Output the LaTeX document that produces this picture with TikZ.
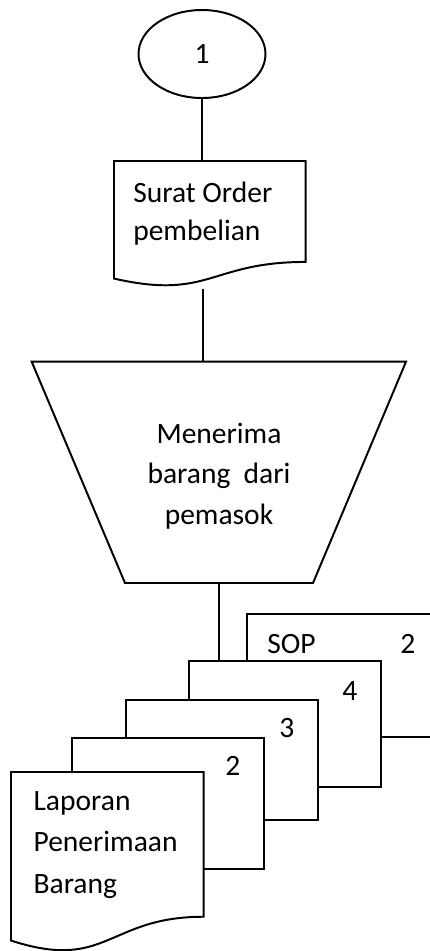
\documentclass[tikz,border=0pt]{standalone}
\usepackage{fontspec}
\setmainfont{Carlito}
\usepackage{tikz}
\usetikzlibrary{shapes.geometric,calc,positioning}

% dokumen: garis bawah bergelombang
\newcommand{\dokumen}[1]{%
  \draw[garis,fill=white] (#1.north west) -- (#1.north east)
    -- ($(#1.north east)!0.802!(#1.south east)$)
    .. controls ($(#1.north)!0.802!(#1.south)$) and ($(#1.north)!1.1075!(#1.south)$)
    .. ($(#1.north west)!0.934!(#1.south west)$) -- cycle;}

\begin{document}
\begin{tikzpicture}[x=0.25cm,y=-0.25cm,
  garis/.style={line width=1.4pt},
  teks/.style={inner sep=0pt},
  huruf/.style={font=\fontsize{21pt}{#1}\selectfont},
  huruf/.default=27pt,
  lembar/.style={garis,draw,fill=white,anchor=north west,inner sep=0pt,minimum width=4.8cm},
  rangka/.style={anchor=north west,inner sep=0pt,minimum width=4.8cm}]

\useasboundingbox (0,0) rectangle (43,95.1);
\clip (0,0) rectangle (43,95.1);

% penghubung
\node[ellipse,draw,garis,huruf,inner sep=0pt,minimum width=3.175cm,minimum height=2.2cm] (satu) at (20.2,5.4) {1};

% surat order pembelian
\node[rangka,minimum width=4.775cm,minimum height=3.1325cm] (surat) at (11.4,16.1) {};
\dokumen{surat}
\node[teks,huruf=27pt,align=left,anchor=north west] (suratteks) at (13.3,18.2) {Surat Order\\pembelian};

% menerima barang
\coordinate (tkiri) at (3.17,36.17);
\coordinate (tkanan) at (40.6,36.17);
\coordinate (bkanan) at (31.3,58.3);
\coordinate (bkiri) at (12.5,58.3);
\draw[garis] (tkiri) -- (tkanan) -- (bkanan) -- (bkiri) -- cycle;
\node[teks,huruf=29pt,align=center] (terima) at (21.9,47.6) {Menerima\\barang~ dari\\pemasok};

% tumpukan lembar
\node[lembar,minimum height=3.075cm] (sop) at (24.6,61.3) {};
\node[teks,huruf,anchor=base west] (sopteks) at ([xshift=0.525cm,yshift=-1cm]sop.north west) {SOP};
\node[teks,huruf,anchor=base] (sopno) at ([xshift=-0.8cm,yshift=-1cm]sop.north east) {2};

\node[lembar,minimum height=3.15cm] (lbr4) at (18.8,66.0) {};
\node[teks,huruf,anchor=base] (no4) at ([xshift=-0.8cm,yshift=-1cm]lbr4.north east) {4};

\node[lembar,minimum height=3.0cm] (lbr3) at (12.5,69.9) {};
\node[teks,huruf,anchor=base] (no3) at ([xshift=-0.8cm,yshift=-0.95cm]lbr3.north east) {3};

\node[lembar,minimum height=3.275cm] (lbr2) at (7.1,73.7) {};
\node[teks,huruf,anchor=base] (no2) at ([xshift=-0.8cm,yshift=-0.95cm]lbr2.north east) {2};

% laporan penerimaan barang
\node[rangka,minimum height=4.4975cm] (laporan) at (1.1,77.2) {};
\dokumen{laporan}
\node[teks,huruf=29.7pt,align=left,anchor=north west] (laporanteks) at (3.33,79.1) {Laporan\\Penerimaan\\Barang};

% garis alir
\coordinate (suratbawah) at (20.3,28.9);
\coordinate (terimabawah) at (21.9,58.3);
\draw[garis] (satu.south) -- (satu.south |- surat.north);
\draw[garis] (suratbawah) -- (suratbawah |- tkiri);
\draw[garis] (terimabawah) -- (terimabawah |- lbr4.north);

\end{tikzpicture}
\end{document}
